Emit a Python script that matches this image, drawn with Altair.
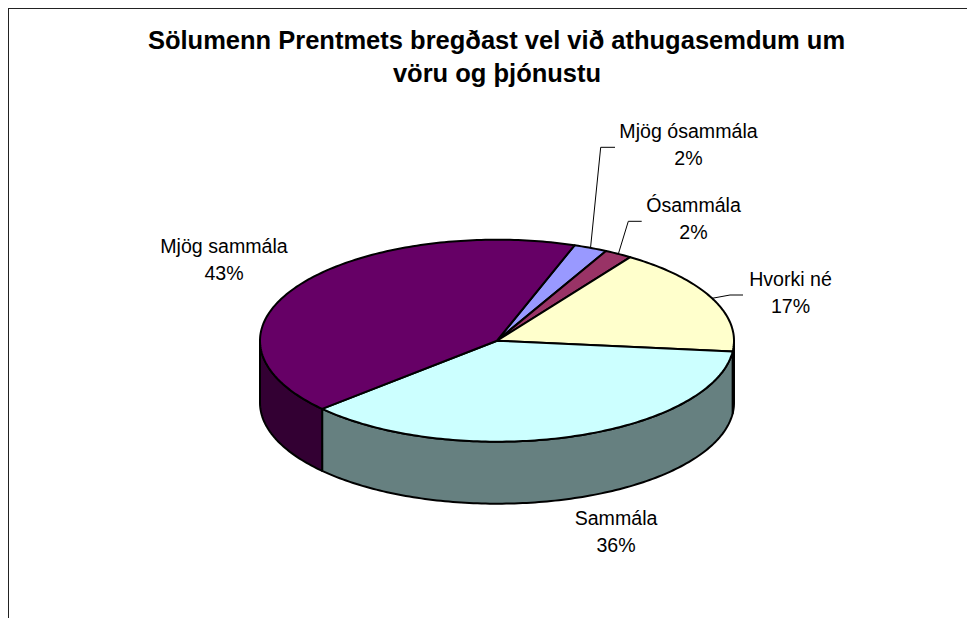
import math
import altair as alt
import pandas as pd

# Data
categories = ["Mjög ósammála", "Ósammála", "Hvorki né", "Sammála", "Mjög sammála"]
shares = [2.3, 1.9, 17.2, 36.5, 42.1]
percent_labels = ["2%", "2%", "17%", "36%", "43%"]
title_lines = ["Sölumenn  Prentmets bregðast vel við athugasemdum um", "vöru og þjónustu"]

# Styles and layout
top_colors = ["#9999FF", "#993366", "#FFFFCC", "#CCFFFF", "#660066"]
wall_colors = ["#4D4D80", "#4D1A33", "#808066", "#668080", "#330033"]
START = 19.1
W, H = 959, 610
CX, CY, RX, RY, DEPTH = 489.0, 332.7, 237.0, 101.0, 62.0

x_scale = alt.Scale(domain=[-CX / RX, (W - CX) / RX], nice=False, zero=False)
y_scale = alt.Scale(domain=[(CY - H) / RY, CY / RY], nice=False, zero=False)
X = lambda f="x": alt.X(f"{f}:Q", scale=x_scale, axis=None)
Y = lambda f="y": alt.Y(f"{f}:Q", scale=y_scale, axis=None)


def rim(a, drop=0.0):
    r = math.radians(a)
    return math.sin(r), math.cos(r) - drop


def shape(points, fill, stroke_width=2):
    df = pd.DataFrame([{"x": p[0], "y": p[1], "i": i} for i, p in enumerate(points)])
    return alt.Chart(df).mark_line(
        interpolate="linear-closed", fill=fill, stroke="#000000",
        strokeWidth=stroke_width, strokeJoin="round", clip=False,
    ).encode(x=X(), y=Y(), order=alt.Order("i:Q"))


def arc_angles(a0, a1):
    n = max(2, int(abs(a1 - a0)) + 1)
    return [a0 + (a1 - a0) * k / n for k in range(n + 1)]


# slice boundaries
total = sum(shares)
bounds = [START]
for s in shares:
    bounds.append(bounds[-1] + 360 * s / total)

layers = []
# walls
drop = DEPTH / RY
for k in range(len(shares)):
    a0, a1 = max(bounds[k], 90), min(bounds[k + 1], 270)
    if a1 <= a0:
        continue
    angs = arc_angles(a0, a1)
    pts = [rim(a) for a in angs] + [rim(a, drop) for a in reversed(angs)]
    layers.append(shape(pts, wall_colors[k]))
# top faces
for k in range(len(shares)):
    pts = [(0.0, 0.0)] + [rim(a) for a in arc_angles(bounds[k], bounds[k + 1])]
    layers.append(shape(pts, top_colors[k]))


def px(x, y):
    return (x - 8 - CX) / RX, (CY - (y - 8)) / RY


# leader lines: from the slice's rim to an elbow and a short horizontal run
leaders = {
    0: [px(600.7, 147.3), px(615, 147.3)],
    1: [px(628.3, 221.3), px(641.7, 221.3)],
    2: [px(730, 295), px(743, 295)],
}
for k, rest in leaders.items():
    mid = (bounds[k] + bounds[k + 1]) / 2
    pts = [rim(mid)] + rest
    df = pd.DataFrame([{"x": p[0], "y": p[1], "i": i} for i, p in enumerate(pts)])
    layers.append(
        alt.Chart(df).mark_line(color="#000000", strokeWidth=1).encode(
            x=X(), y=Y(), order=alt.Order("i:Q")
        )
    )


def text(s, x, y, size=19.6, weight="normal"):
    return alt.Chart(pd.DataFrame({"t": [s]})).mark_text(
        font="Liberation Sans", fontSize=size, fontWeight=weight, color="#000000",
        align="center", baseline="alphabetic",
    ).encode(x=alt.value(x - 8), y=alt.value(y - 8), text="t:N")


label_pos = [
    (688.5, 138.3, 165.0),
    (693.5, 211.7, 239.0),
    (790.5, 286.0, 312.7),
    (616.0, 525.0, 551.7),
    (224.0, 252.7, 280.0),
]
for k, (x, y1, y2) in enumerate(label_pos):
    layers.append(text(categories[k], x, y1))
    layers.append(text(percent_labels[k], x, y2))

layers.append(text(title_lines[0], 496.5, 49.3, 25.5, "bold"))
layers.append(text(title_lines[1], 497, 81.7, 25.5, "bold"))

# chart frame
frame_df = pd.DataFrame({"a": [0]})
layers.append(alt.Chart(frame_df).mark_rule(color="#222222", strokeWidth=2).encode(
    x=alt.value(0), y=alt.value(0), y2=alt.value(H)))
layers.append(alt.Chart(frame_df).mark_rule(color="#222222", strokeWidth=2).encode(
    y=alt.value(0), x=alt.value(0), x2=alt.value(W)))

chart = alt.layer(*layers).properties(
    width=W, height=H, padding=0, autosize=alt.AutoSizeParams(type="none"), background="#FFFFFF"
).configure_view(strokeWidth=0)

chart.save("out.html", embed_options={"renderer": "svg", "actions": False})
